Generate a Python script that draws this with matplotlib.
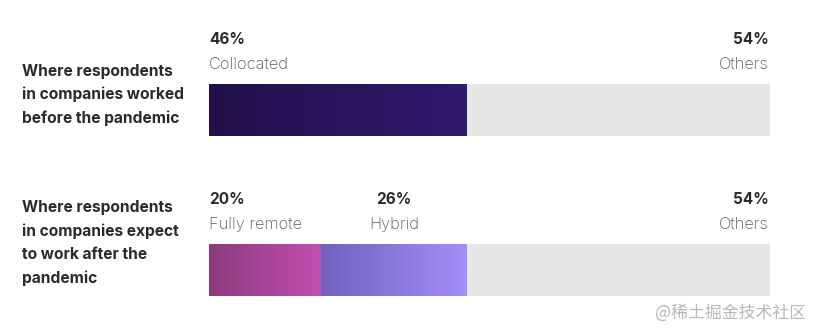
import matplotlib.pyplot as plt
import numpy as np
from matplotlib.colors import LinearSegmentedColormap

plt.rcParams['font.family'] = ['Inter', 'DejaVu Sans']

# data
questions = ['Where respondents\nin companies worked\nbefore the pandemic',
             'Where respondents\nin companies expect\nto work after the\npandemic']
segments = [['Collocated', 'Others'],
            ['Fully remote', 'Hybrid', 'Others']]
values = [[46, 54],
          [20, 26, 54]]
# gradient colours per segment (left, right)
gradients = [[('#22104a', '#2f1a6e'), ('#e6e6e6', '#e6e6e6')],
             [('#8c3a7e', '#c24fb0'), ('#7262be', '#a48ef8'), ('#e6e6e6', '#e6e6e6')]]

W, H = 814, 329
fig = plt.figure(figsize=(W / 100, H / 100), dpi=100)
fig.patch.set_facecolor('white')

# axes covers bar width horizontally, full height vertically (y in pixels)
ax = fig.add_axes([209 / W, 0, 560 / W, 1])
ax.set_xlim(0, 100)
ax.set_ylim(H, 0)
ax.axis('off')

bar_centers = [110, 270]
bar_h = 52
grad = np.linspace(0, 1, 256).reshape(1, -1)

for i, (q, segs, vals) in enumerate(zip(questions, segments, values)):
    yc = bar_centers[i]
    top, bot = yc - bar_h / 2, yc + bar_h / 2
    left = 0
    n = len(vals)
    for j, (name, v) in enumerate(zip(segs, vals)):
        c0, c1 = gradients[i][j]
        cmap = LinearSegmentedColormap.from_list('g', [c0, c1])
        ax.imshow(grad, cmap=cmap, aspect='auto', extent=(left, left + v, bot, top),
                  interpolation='bilinear', zorder=2)
        if j == 0:
            x, ha = left, 'left'
        elif j == n - 1:
            x, ha = left + v, 'right'
        else:
            x, ha = left + v / 2, 'center'
        ax.text(x, top - 45, f'{v}%', ha=ha, va='center', fontsize=11,
                fontweight='bold', color='#2a2a2a')
        ax.text(x, top - 20, name, ha=ha, va='center', fontsize=11.8,
                fontweight='light', color='#5a5a5a')
        left += v
    nlines = q.count('\n') + 1
    ytxt = 1 - (yc - 15 - (nlines - 3) * 12) / H
    fig.text(22 / W, ytxt, q, ha='left', va='center', fontsize=11.2,
             fontweight='bold', color='#2a2a2a', linespacing=1.65)

ax.set_xlim(0, 100)
ax.set_ylim(H, 0)

fig.text(806 / W, 1 - 313 / H, '@稀土掘金技术社区', ha='right', va='center',
         fontsize=12.2, color='#b8b8b8', family=['Noto Sans CJK SC', 'DejaVu Sans'])

fig.savefig('out.png', dpi=100, facecolor='white')
